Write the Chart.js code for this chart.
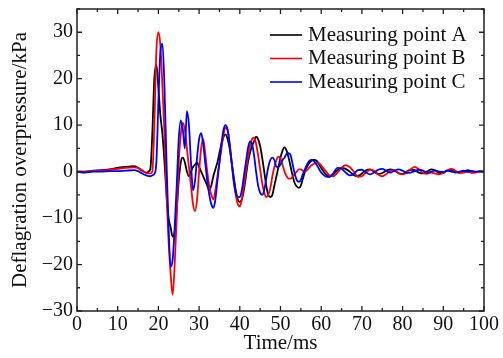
<!DOCTYPE html>
<html>
<head>
<meta charset="utf-8">
<script src="https://cdn.jsdelivr.net/npm/chart.js@4/dist/chart.umd.min.js"></script>
<style>
  html, body { margin: 0; padding: 0; background: #fff; }
  #wrap { width: 503px; height: 358px; }
</style>
</head>
<body>
<div id="wrap"><canvas id="chart" width="503" height="358"></canvas></div>
<script>
// Deflagration overpressure at three measuring points
var timeMs = [
  0, 2, 4, 6, 8, 10, 12, 14, 15, 16, 17, 18,
  18.5, 19, 19.5, 20, 20.5, 21, 21.5, 22, 22.5, 23,
  23.5, 24, 24.5, 25, 25.5, 26, 26.5, 27, 27.5, 28,
  28.5, 29, 29.5, 30, 30.5, 31, 31.5, 32, 32.5, 33,
  33.5, 34, 34.5, 35, 35.5, 36, 36.5, 37, 37.5, 38,
  38.5, 39, 39.5, 40, 40.5, 41, 41.5, 42, 42.5, 43,
  43.5, 44, 44.5, 45, 45.5, 46, 46.5, 47, 47.5, 48,
  48.5, 49, 49.5, 50, 50.5, 51, 51.5, 52, 52.5, 53,
  53.5, 54, 54.5, 55, 55.5, 56, 56.5, 57, 57.5, 58,
  58.5, 59, 59.5, 60,
  61, 62, 63, 64, 65, 66, 67, 68, 69, 70,
  71, 72, 73, 74, 75, 76, 77, 78, 79, 80,
  81, 82, 83, 84, 85, 86, 87, 88, 89, 90,
  91, 92, 93, 94, 95, 96, 97, 98, 99, 100
];

var pointA = [
  0, 0, 0.2, 0.3, 0.5, 0.8, 1.0, 1.2, 0.8, 0.2, -0.2, 0.5,
  8, 20, 23, 18, 12, 8, 2, -5, -10, -12,
  -14, -13, -8, -2, 2, 3, 2, 0, -1, 0,
  1, 1.5, 2, 1, 0, -1, -2, -3, -4, -3,
  -1, 0.5, 2, 4, 6, 7.5, 8, 7, 5, 2,
  -1, -4, -6, -6.5, -6, -4, -1, 2, 4, 5.5,
  6.5, 7.5, 7, 5.5, 3, 0, -3, -5, -5.5, -5,
  -3, -1, 1, 3, 4.5, 5.2, 4.5, 3, 1, -1,
  -2.5, -3.2, -3.5, -3, -1.5, 0, 1, 1.8, 2.3, 2.5,
  2.5, 2.2, 1.5, 0.8,
  -0.5, -1, -0.6, 0.3, 0.8, 0.6, 0, -0.8, -1, -0.4,
  0.3, 0.5, 0, -0.5, -0.3, 0.2, 0.5, 0.2, -0.3, -0.5,
  0, 0.4, 0.3, -0.2, -0.4, 0, 0.5, 0.3, -0.3, -0.2,
  0.2, 0.3, 0, -0.2, 0, 0.3, 0.1, -0.1, 0, 0
];

var pointB = [
  0, 0, 0.1, 0.2, 0.4, 0.6, 0.8, 0.9, 0.8, 0.3, -0.3, -0.4,
  0, 10, 26, 30, 27, 18, 8, -5, -15, -22,
  -26.5, -20, -10, 2, 8, 10.5, 9, 5, 1, -3,
  -7, -8.5, -6, 0, 5, 7, 4, 0, -3, -5,
  -6, -4, -1, 2, 5, 8, 9.5, 9, 6, 2,
  -2, -5, -7, -7.5, -6, -3, 0, 3, 5.5, 7,
  7.3, 6, 3.5, 0.5, -2.5, -4.5, -5.5, -5, -3.5, -1,
  1, 2.5, 3.2, 2.8, 1.5, 0, -1, -1.5, -1.5, -1,
  -0.5, 0, 0.5, 0.5, 0.2, 0, 0.3, 0.8, 1.3, 1.6,
  1.8, 1.9, 1.8, 1.3,
  0.2, -0.8, -1, -0.2, 0.8, 1.4, 1, 0, -1.1, -1,
  -0.2, 0.4, 0.2, -0.6, -1, -0.5, 0.2, 0.3, -0.4, -0.6,
  -0.2, 0.5, 1, 0.5, -0.3, -0.5, -0.2, -0.4, -0.6, -0.3,
  0.3, 0.6, 0.2, -0.3, -0.2, 0, -0.3, -0.2, 0, 0
];

var pointC = [
  0, -0.2, 0, 0, 0.1, 0.1, 0.2, 0.3, 0.1, -0.4, -0.8, -1,
  -0.8, -0.5, 2, 15, 26, 27.5, 18, 2, -12, -20.5,
  -19, -12, -3, 7, 11, 9, 5, 13, 10, 2,
  -4, -2, 3, 7, 8.3, 6, 2, -2, -5, -7,
  -7.8, -6, -2, 2, 6, 9, 10, 9, 6, 2,
  -2, -4.5, -5.5, -5.5, -4, -1, 2, 5, 6.5, 6,
  3.5, 0, -3, -4.5, -5, -4, -1.5, 1, 2.5, 3,
  2.5, 1, 1, 1.5, 2.5, 3, 3.8, 4, 3.5, 1.5,
  -0.5, -1.8, -2.2, -1.8, -0.5, 0.5, 1.5, 2.2, 2.5, 2.4,
  2, 1.3, 0.5, -0.2,
  -1, -1.2, -0.3, 0.8, 0.6, -0.2, -0.8, -0.5, 0.3, 0.4,
  -0.2, -0.6, -0.2, 0.4, 0.6, 0.2, -0.2, 0.2, 0.5, 0.2,
  -0.3, -0.2, 0.1, 0.4, 0.2, -0.2, 0, 0.2, 0, -0.1,
  0.2, 0, -0.2, 0, 0.2, 0, 0.1, 0, 0.1, 0
];

var seriesNames = ['Measuring point A', 'Measuring point B', 'Measuring point C'];
var seriesColors = ['#000000', '#ff0000', '#0000ff'];
var xTickStep = 10;
var yTickStep = 10;

var serif = '"Liberation Serif", "Times New Roman", serif';

function toPoints(values) {
  return values.map(function(v, i) { return { x: timeMs[i], y: v }; });
}

function minusLabel(v) {
  return v < 0 ? '\u2212' + Math.abs(v) : String(v);
}

// frame with inward ticks on all four sides
var framePlugin = {
  id: 'frame',
  afterDatasetsDraw: function(chart) {
    var ctx = chart.ctx, a = chart.chartArea;
    var xs = chart.scales.x, ys = chart.scales.y;
    ctx.save();
    ctx.strokeStyle = '#222';
    ctx.lineWidth = 1.5;
    ctx.strokeRect(a.left, a.top, a.right - a.left, a.bottom - a.top);
    ctx.lineWidth = 1.3;
    ctx.beginPath();
    var v, p, len;
    for (v = xs.min; v <= xs.max; v += xTickStep / 2) {
      p = xs.getPixelForValue(v);
      len = v % xTickStep === 0 ? 5 : 3;
      ctx.moveTo(p, a.bottom); ctx.lineTo(p, a.bottom - len);
      ctx.moveTo(p, a.top); ctx.lineTo(p, a.top + len);
    }
    for (v = ys.min; v <= ys.max; v += yTickStep / 2) {
      p = ys.getPixelForValue(v);
      len = v % yTickStep === 0 ? 5 : 3;
      ctx.moveTo(a.left, p); ctx.lineTo(a.left + len, p);
      ctx.moveTo(a.right, p); ctx.lineTo(a.right - len, p);
    }
    ctx.stroke();
    ctx.restore();
  }
};

// legend box in the upper right of the plot
var legendPlugin = {
  id: 'cornerLegend',
  afterDraw: function(chart) {
    var ctx = chart.ctx, a = chart.chartArea;
    var x0 = a.right - 214, top = a.top + 26, rowH = 23.5;
    ctx.save();
    ctx.font = '21px ' + serif;
    ctx.textBaseline = 'middle';
    ctx.textAlign = 'left';
    seriesNames.forEach(function(name, i) {
      var y = top + i * rowH;
      ctx.strokeStyle = seriesColors[i];
      ctx.lineWidth = 1.6;
      ctx.beginPath();
      ctx.moveTo(x0, y); ctx.lineTo(x0 + 32, y);
      ctx.stroke();
      ctx.fillStyle = '#111';
      ctx.fillText(name, x0 + 38, y);
    });
    ctx.restore();
  }
};

var datasets = [pointA, pointB, pointC].map(function(vals, i) {
  return {
    label: seriesNames[i],
    data: toPoints(vals),
    borderColor: seriesColors[i],
    backgroundColor: seriesColors[i],
    borderWidth: 1.8,
    pointRadius: 0,
    tension: 0.35,
    cubicInterpolationMode: 'monotone',
    fill: false,
    order: 3 - i
  };
});

new Chart(document.getElementById('chart'), {
  type: 'line',
  data: { datasets: datasets },
  options: {
    responsive: false,
    animation: false,
    layout: { padding: { top: 9, right: 19, left: 0, bottom: 0 } },
    plugins: { legend: { display: false }, tooltip: { enabled: false } },
    scales: {
      x: {
        type: 'linear',
        min: 0,
        max: 100,
        afterFit: function(s) {
          s.height = 47;
          s.paddingLeft = 0; s.paddingRight = 0;
        },
        grid: { display: false, drawTicks: false },
        border: { display: false },
        ticks: {
          stepSize: xTickStep,
          autoSkip: false,
          maxRotation: 0,
          padding: 2,
          color: '#111',
          font: { family: serif, size: 20 }
        },
        title: {
          display: true,
          text: 'Time/ms',
          color: '#111',
          padding: { top: 0, bottom: 2 },
          font: { family: serif, size: 21 }
        }
      },
      y: {
        type: 'linear',
        min: -30,
        max: 35,
        afterFit: function(s) {
          s.width = 77;
          s.paddingTop = 0; s.paddingBottom = 0;
        },
        afterBuildTicks: function(s) {
          s.ticks = s.ticks.filter(function(t) { return t.value % yTickStep === 0; });
        },
        grid: { display: false, drawTicks: false },
        border: { display: false },
        ticks: {
          stepSize: yTickStep,
          padding: 4,
          color: '#111',
          font: { family: serif, size: 20 },
          callback: minusLabel
        },
        title: {
          display: true,
          text: 'Deflagration overpressure/kPa',
          color: '#111',
          padding: { top: 8, bottom: 0 },
          font: { family: serif, size: 21 }
        }
      }
    }
  },
  plugins: [framePlugin, legendPlugin]
});
</script>
</body>
</html>
